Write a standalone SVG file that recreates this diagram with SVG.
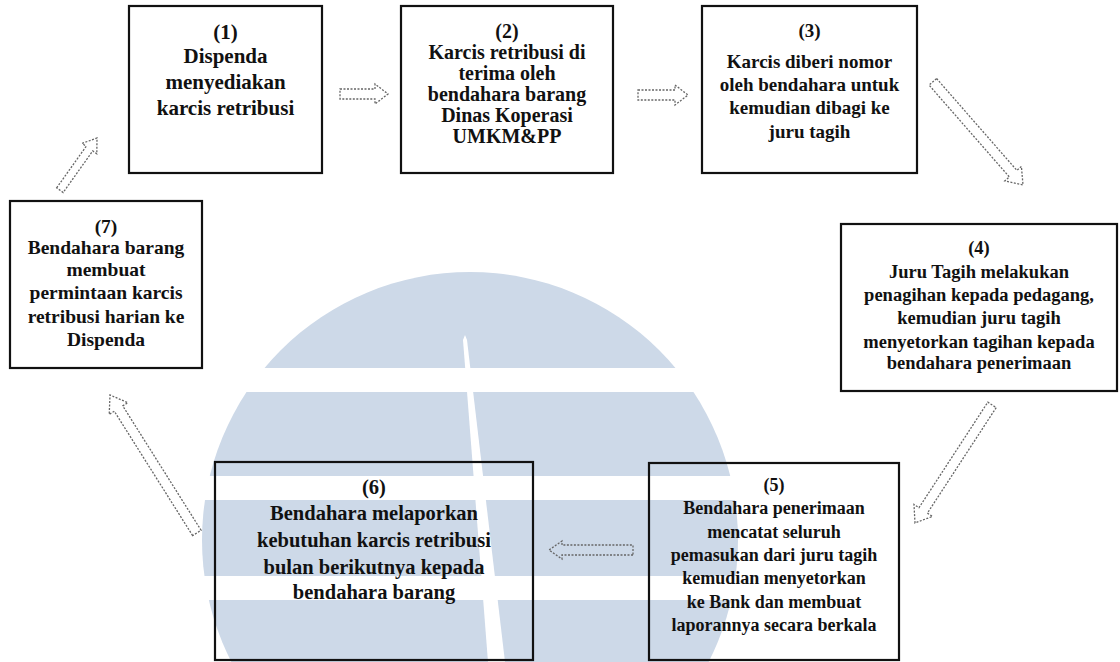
<svg xmlns="http://www.w3.org/2000/svg" width="1120" height="662" viewBox="0 0 1120 662">
<style>
.box{fill:none;stroke:#111;stroke-width:2.2}
.t{font-family:"Liberation Serif","Times New Roman",serif;font-weight:bold;fill:#111;text-anchor:middle}
.arr{fill:none;stroke:#666;stroke-width:1.3;stroke-dasharray:2 1.5}
.wm{fill:#cdd9e8}
</style>
<rect width="1120" height="662" fill="#ffffff"/>
<g id="watermark">
<defs><clipPath id="c"><circle cx="470" cy="540" r="268"/></clipPath></defs>
<g clip-path="url(#c)">
<rect class="wm" x="150" y="260" width="640" height="108"/>
<rect class="wm" x="150" y="392" width="640" height="84"/>
<rect class="wm" x="150" y="500" width="640" height="76"/>
<rect class="wm" x="150" y="600" width="640" height="80"/>
<polygon fill="#ffffff" points="465,335 463,340 488,662 505,662 467,340"/>
</g>
</g>
<g id="connectors">
<polygon class="arr" transform="translate(388,94) rotate(0)" points="-48,-5 -13,-5 -13,-10 0,0 -13,10 -13,5 -48,5"/>
<polygon class="arr" transform="translate(688,95) rotate(0)" points="-50,-5 -13,-5 -13,-10 0,0 -13,10 -13,5 -50,5"/>
<polygon class="arr" transform="translate(1023,185) rotate(48.85)" points="-137,-5 -15,-5 -15,-11 0,0 -15,11 -15,5 -137,5"/>
<polygon class="arr" transform="translate(915,523) rotate(123.1)" points="-141,-5 -15,-5 -15,-11 0,0 -15,11 -15,5 -141,5"/>
<polygon class="arr" transform="translate(549,550) rotate(180)" points="-84,-5 -13,-5 -13,-9 0,0 -13,9 -13,5 -84,5"/>
<polygon class="arr" transform="translate(110,395) rotate(237.8)" points="-163,-5 -16,-5 -16,-11 0,0 -16,11 -16,5 -163,5"/>
<polygon class="arr" transform="translate(97,138) rotate(-54.6)" points="-64,-4 -13,-4 -13,-9 0,0 -13,9 -13,4 -64,4"/>
</g>
<g id="n1">
<rect class="box" x="129" y="6" width="193" height="167"/>
<text class="t" font-size="21"><tspan x="225.5" y="39">(1)</tspan><tspan x="225.5" y="63">Dispenda</tspan><tspan x="225.5" y="89">menyediakan</tspan><tspan x="225.5" y="115">karcis retribusi</tspan></text>
</g>
<g id="n2">
<rect class="box" x="401" y="6" width="212" height="167"/>
<text class="t" font-size="20"><tspan x="507" y="38">(2)</tspan><tspan x="507" y="59">Karcis retribusi di</tspan><tspan x="507" y="80">terima oleh</tspan><tspan x="507" y="101">bendahara barang</tspan><tspan x="507" y="122">Dinas Koperasi</tspan><tspan x="507" y="143">UMKM&amp;PP</tspan></text>
</g>
<g id="n3">
<rect class="box" x="702" y="6" width="215" height="167"/>
<text class="t" font-size="19"><tspan x="809.5" y="37">(3)</tspan><tspan x="809.5" y="68">Karcis diberi nomor</tspan><tspan x="809.5" y="91">oleh bendahara untuk</tspan><tspan x="809.5" y="114">kemudian dibagi ke</tspan><tspan x="809.5" y="138">juru tagih</tspan></text>
</g>
<g id="n4">
<rect class="box" x="841" y="224" width="276" height="167"/>
<text class="t" font-size="18.5"><tspan x="979" y="254">(4)</tspan><tspan x="979" y="278">Juru Tagih melakukan</tspan><tspan x="979" y="301">penagihan kepada pedagang,</tspan><tspan x="979" y="324">kemudian juru tagih</tspan><tspan x="979" y="348">menyetorkan tagihan kepada</tspan><tspan x="979" y="369">bendahara penerimaan</tspan></text>
</g>
<g id="n5">
<rect class="box" x="649" y="463" width="250" height="197"/>
<text class="t" font-size="18"><tspan x="774" y="491">(5)</tspan><tspan x="774" y="514">Bendahara penerimaan</tspan><tspan x="774" y="538">mencatat seluruh</tspan><tspan x="774" y="561">pemasukan dari juru tagih</tspan><tspan x="774" y="584">kemudian menyetorkan</tspan><tspan x="774" y="608">ke Bank dan membuat</tspan><tspan x="774" y="631">laporannya secara berkala</tspan></text>
</g>
<g id="n6">
<rect class="box" x="215" y="462" width="318" height="198"/>
<text class="t" font-size="20.5"><tspan x="374" y="494">(6)</tspan><tspan x="374" y="520">Bendahara melaporkan</tspan><tspan x="374" y="547">kebutuhan karcis retribusi</tspan><tspan x="374" y="574">bulan berikutnya kepada</tspan><tspan x="374" y="599">bendahara barang</tspan></text>
</g>
<g id="n7">
<rect class="box" x="10" y="201" width="192" height="167"/>
<text class="t" font-size="19.5"><tspan x="106" y="233">(7)</tspan><tspan x="106" y="254">Bendahara barang</tspan><tspan x="106" y="276">membuat</tspan><tspan x="106" y="299">permintaan karcis</tspan><tspan x="106" y="323">retribusi harian ke</tspan><tspan x="106" y="346">Dispenda</tspan></text>
</g>
</svg>
